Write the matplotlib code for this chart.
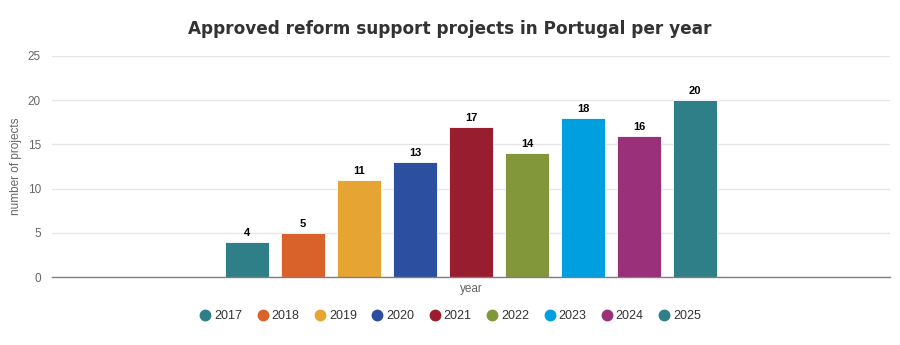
import matplotlib
matplotlib.use("Agg")
import matplotlib.pyplot as plt
from matplotlib.lines import Line2D

years = ["2017", "2018", "2019", "2020", "2021", "2022", "2023", "2024", "2025"]
projects = [4, 5, 11, 13, 17, 14, 18, 16, 20]
colors = ["#2e7f87", "#d9622b", "#e6a532", "#2c4fa0", "#981d2e",
          "#82973a", "#00a0e0", "#9a2f7a", "#2e7f87"]
category = "year"

W, H = 900, 345
fig = plt.figure(figsize=(W / 100, H / 100), dpi=100)
ax = fig.add_axes([52 / W, (H - 277) / H, (890 - 52) / W, (277 - 56) / H])

ax.set_xlim(-0.5, 0.5)
ax.set_ylim(0, 25)

step = 56 / 838
width = 44 / 838
n = len(years)
for i, (yr, v, c) in enumerate(zip(years, projects, colors)):
    x = (i - (n - 1) / 2) * step
    ax.bar(x, v, width=width, color=c, edgecolor="white", linewidth=0.6, zorder=3)
    ax.text(x, v + 0.45, str(v), ha="center", va="bottom", fontsize=8,
            fontweight="bold", color="#000000", family="Liberation Sans", zorder=4)

ax.set_yticks([0, 5, 10, 15, 20, 25])
ax.set_xticks([])
ax.yaxis.grid(True, color="#e6e6e6", linewidth=1, zorder=0)
ax.tick_params(axis="y", length=0, labelsize=8.5, labelcolor="#666666", pad=8)
for lbl in ax.get_yticklabels():
    lbl.set_family("Liberation Sans")
for s in ["top", "right", "left"]:
    ax.spines[s].set_visible(False)
ax.spines["bottom"].set_color("#7f7f7f")
ax.spines["bottom"].set_linewidth(1)
ax.spines["bottom"].set_zorder(5)

ax.set_ylabel("number of projects", fontsize=8.5, color="#666666",
              family="Liberation Sans", labelpad=4)
ax.text(0.5, -0.028, category, transform=ax.transAxes, ha="center", va="top",
        fontsize=8.5, color="#666666", family="Liberation Sans")

fig.text(0.5, 1 - 29 / H, "Approved reform support projects in Portugal per year",
         ha="center", va="center", fontsize=12.2, fontweight="bold",
         color="#333333", family="DejaVu Sans")

handles = [Line2D([0], [0], marker="o", linestyle="", markersize=7.5,
                  markerfacecolor=c, markeredgecolor=c) for c in colors]
leg = fig.legend(handles, years, loc="center", bbox_to_anchor=(0.5, 1 - 316 / H),
                 ncol=n, frameon=False, handletextpad=0.2, columnspacing=1.15,
                 handlelength=1.0,
                 prop={"family": "Liberation Sans", "size": 9})
for t in leg.get_texts():
    t.set_color("#333333")

fig.savefig("out.png", dpi=100, facecolor="white")
